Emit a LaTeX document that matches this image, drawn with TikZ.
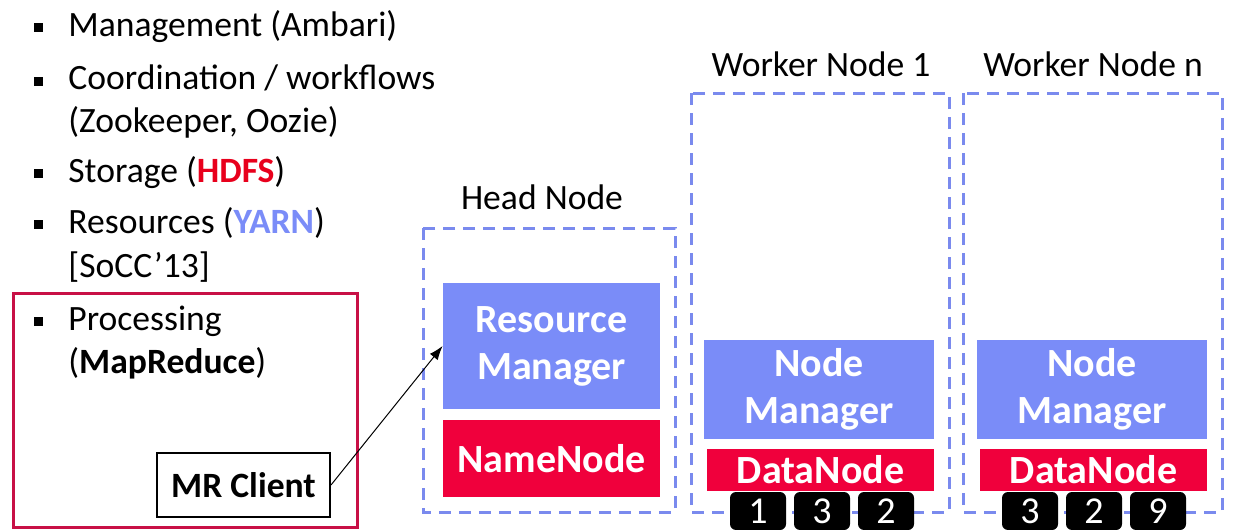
\documentclass[tikz,border=0pt]{standalone}
\usepackage{fontspec}
\setmainfont{Carlito}
\usetikzlibrary{arrows.meta}
\definecolor{yarnblue}{RGB}{122,140,248}
\definecolor{dashblue}{RGB}{122,138,238}
\definecolor{hdfsred}{RGB}{232,0,28}
\definecolor{nodered}{RGB}{240,0,60}
\definecolor{boxred}{RGB}{200,16,70}
\tikzset{
	item/.style={anchor=base west, inner sep=0pt, font=\fontsize{17.8}{21.5}\selectfont},
	lbl/.style={inner sep=0pt, font=\fontsize{17.8}{21.5}\selectfont},
	blt/.style={fill=black, minimum size=4.5pt, inner sep=0pt},
	mgr/.style={fill=yarnblue, text=white, align=center, inner sep=0pt, font=\bfseries\fontsize{20}{23.5}\selectfont},
	dnode/.style={fill=nodered, text=white, inner sep=0pt, font=\bfseries\fontsize{20}{23.5}\selectfont},
	blk/.style={fill=black, text=white, rounded corners=3pt, minimum width=28pt, minimum height=19pt, inner sep=0pt, font=\fontsize{19}{22}\selectfont},
	frame/.style={draw=dashblue, line width=1.5pt, dash pattern=on 6pt off 4pt}
}
\begin{document}
\begin{tikzpicture}[x=0.5pt, y=-0.5pt]
		\useasboundingbox (0,0) rectangle (1239,530);
		
		\foreach \y in {36, 90, 182, 233, 330}
			\node[blt] at (38,\y-9) {};
		
		\node[item] (mgmt) at (68,36) {Management (Ambari)};
		\node[item] (coord) at (68,90) {Coordination / workflows};
		\node[item] (zoo) at (68,133) {(Zookeeper, Oozie)};
		\node[item] (stor) at (68,182) {Storage ({\bfseries\color{hdfsred}HDFS})};
		\node[item] (res) at (68,233) {Resources ({\bfseries\color{yarnblue}YARN})};
		\node[item] (socc) at (68,277) {[SoCC’13]};
		\node[item] (proc) at (68,330) {Processing};
		\node[item] (mapred) at (68,373) {({\bfseries MapReduce})};
		
		\draw[draw=boxred, line width=1.5pt] (13,293) rectangle (357,527);
		\node[draw, line width=1pt, minimum width=86.5pt, minimum height=32pt, inner sep=0pt, font=\bfseries\fontsize{17.8}{21.5}\selectfont] (mrc) at (243.5,485) {MR Client};
		
		\node[lbl] (head) at (542,197) {Head Node};
		\node[lbl] (work1) at (821,64) {Worker Node 1};
		\node[lbl] (workn) at (1093,64) {Worker Node n};
		
		\draw[frame] (423,228) rectangle (675,512);
		\draw[frame] (691,93) rectangle (949,512);
		\draw[frame] (963,93) rectangle (1222,512);
		
		\node[mgr, minimum width=108.5pt, minimum height=63pt] (rm) at (551.5,346) {Resource\\Manager};
		\node[dnode, minimum width=108.5pt, minimum height=38.5pt] (nn) at (551.5,458.5) {NameNode};
		
		\node[mgr, minimum width=115pt, minimum height=49.5pt] (nm1) at (819,389.5) {Node\\Manager};
		\node[dnode, minimum width=113.5pt, minimum height=21pt] (dn1) at (820.5,470) {DataNode};
		\node[mgr, minimum width=115pt, minimum height=49.5pt] (nm2) at (1092,389.5) {Node\\Manager};
		\node[dnode, minimum width=113.5pt, minimum height=21pt] (dn2) at (1093.5,470) {DataNode};
		
		\foreach \x/\d in {758/1, 822/3, 886/2}
			\node[blk] (b1\d) at (\x,511) {\d};
		\foreach \x/\d in {1030/3, 1094/2, 1158/9}
			\node[blk] (b2\d) at (\x,511) {\d};
		
		\draw[-{Latex[length=7pt, width=5pt]}, line width=0.5pt] (mrc.east) -- (rm.west);
		\end{tikzpicture}
\end{document}
